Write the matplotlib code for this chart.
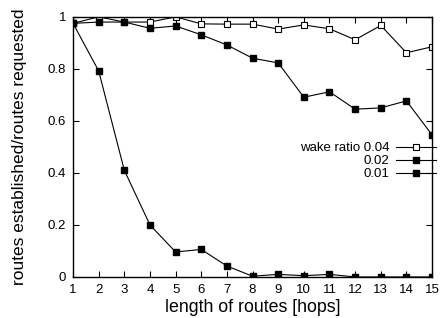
import matplotlib
matplotlib.use("Agg")
import matplotlib.pyplot as plt

plt.rcParams["font.family"] = ["Liberation Sans", "DejaVu Sans"]

hops = list(range(1, 16))
ratio_004 = [0.975, 1.0, 0.98, 0.98, 1.0, 0.973, 0.972, 0.972, 0.953, 0.969,
             0.954, 0.912, 0.967, 0.862, 0.885]
ratio_002 = [0.975, 0.98, 0.98, 0.956, 0.965, 0.931, 0.892, 0.841, 0.823, 0.691,
             0.712, 0.645, 0.65, 0.677, 0.546]
ratio_001 = [0.975, 0.792, 0.41, 0.2, 0.096, 0.106, 0.042, 0.003, 0.01, 0.005,
             0.01, 0.0, 0.0, 0.0, 0.0]
labels = ["wake ratio 0.04", "0.02", "0.01"]

fig = plt.figure(figsize=(4.4, 3.18), dpi=100)
ax = fig.add_axes([0.166, 0.129, 0.816, 0.818])

ax.plot(hops, ratio_004, color="black", lw=0.8, marker="s", ms=4.2,
        mfc="white", mec="black", mew=0.8, label=labels[0])
ax.plot(hops, ratio_002, color="black", lw=0.8, marker="s", ms=5,
        mfc="black", mec="black", label=labels[1])
ax.plot(hops, ratio_001, color="black", lw=0.8, marker="s", ms=5,
        mfc="black", mec="black", label=labels[2])

ax.set_xlim(1, 15)
ax.set_ylim(0, 1)
ax.set_xticks(hops)
ax.set_yticks([0, 0.2, 0.4, 0.6, 0.8, 1])
ax.set_yticklabels(["0", "0.2", "0.4", "0.6", "0.8", "1"])
ax.tick_params(direction="in", top=True, right=True, length=4, width=0.8,
               labelsize=9.5, pad=5)
for s in ax.spines.values():
    s.set_linewidth(1.0)

ax.set_xlabel("length of routes [hops]", fontsize=12.8, labelpad=2.5)
ax.set_ylabel("routes established/routes requested", fontsize=12.5, labelpad=15)

ax.legend(loc="center right", bbox_to_anchor=(1.01, 0.445), frameon=False,
          markerfirst=False, fontsize=9.5, handlelength=3.0, handletextpad=0.5,
          labelspacing=0.05, borderaxespad=0.0, borderpad=0.0)
for t in ax.get_legend().get_texts():
    t.set_ha("right")
ax.get_legend()._legend_box.align = "right"

fig.savefig("out.png", dpi=100)
